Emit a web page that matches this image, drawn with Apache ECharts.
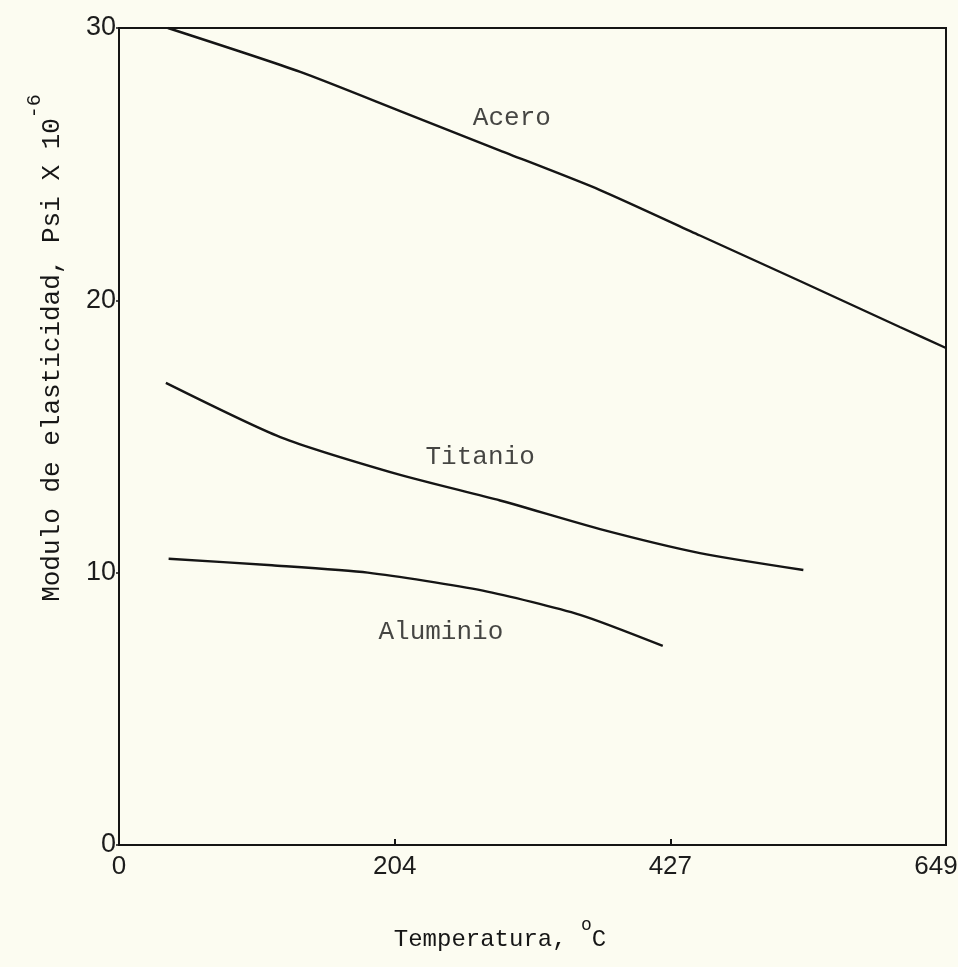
<!DOCTYPE html>
<html>
<head>
<meta charset="utf-8">
<script src="https://cdn.jsdelivr.net/npm/echarts@6/dist/echarts.min.js"></script>
<style>
  html, body { margin: 0; padding: 0; background: #fcfcf1; }
  #chart { width: 958px; height: 967px; }
</style>
</head>
<body>
<div id="chart"></div>
<script>
// x is plotted on the original evenly spaced scale (0..1200), tick labels show °C
const tempTicks = [0, 400, 800, 1200];
const tempTickLabels = ['0', '204', '427', '649'];
const modTicks = [0, 10, 20, 30];

const aceroTemp = [71, 263, 408, 553, 698, 843, 988, 1133, 1200];
const aceroMod = [30.0, 28.39, 26.95, 25.5, 24.05, 22.38, 20.71, 19.02, 18.25];

const titanioTemp = [68, 234, 408, 553, 698, 843, 993];
const titanioMod = [16.97, 14.98, 13.59, 12.65, 11.6, 10.72, 10.1];

const aluminioTemp = [72, 222, 361, 528, 669, 789];
const aluminioMod = [10.51, 10.27, 10.0, 9.34, 8.45, 7.31];

const curveNames = ['Acero', 'Titanio', 'Aluminio'];
const curveLabelTemp = [570, 524, 467];
const curveLabelMod = [26.7, 14.25, 7.82];

const INK = '#151515';
const TYPE = '"Liberation Mono", "DejaVu Sans Mono", monospace';
const LETTER = '"Liberation Sans", "DejaVu Sans", sans-serif';

const zip = (xs, ys) => xs.map((x, i) => [x, ys[i]]);

const curve = (name, xs, ys) => ({
  name,
  type: 'line',
  smooth: 0.22,
  showSymbol: false,
  silent: true,
  lineStyle: { color: INK, width: 2.4 },
  data: zip(xs, ys),
});

const chart = echarts.init(document.getElementById('chart'));

chart.setOption({
  backgroundColor: '#fcfcf1',
  animation: false,
  grid: {
    left: 119,
    right: 12,
    top: 28,
    bottom: 122,
    containLabel: false,
    outerBoundsMode: 'none',
    show: true,
    borderColor: INK,
    borderWidth: 2,
  },
  xAxis: {
    type: 'value',
    min: tempTicks[0],
    max: tempTicks[tempTicks.length - 1],
    interval: tempTicks[1] - tempTicks[0],
    axisLine: { show: false },
    splitLine: { show: false },
    axisTick: { show: true, inside: true, length: 6, lineStyle: { color: INK, width: 2 } },
    axisLabel: {
      margin: 9,
      fontFamily: LETTER,
      fontSize: 26,
      color: '#1c1c1c',
      formatter: v => {
        const i = tempTicks.indexOf(v);
        if (i < 0) return '';
        return i === tempTicks.length - 1 ? `{last|${tempTickLabels[i]}}` : tempTickLabels[i];
      },
      rich: {
        last: { fontFamily: LETTER, fontSize: 26, color: '#1c1c1c', padding: [0, 20, 0, 0] },
      },
    },
  },
  yAxis: {
    type: 'value',
    min: modTicks[0],
    max: modTicks[modTicks.length - 1],
    interval: modTicks[1] - modTicks[0],
    axisLine: { show: false },
    splitLine: { show: false },
    axisTick: { show: true, length: 3, lineStyle: { color: INK, width: 1.5 } },
    axisLabel: {
      margin: 3,
      fontFamily: LETTER,
      fontSize: 27,
      color: '#1c1c1c',
    },
  },
  series: [
    curve('Acero', aceroTemp, aceroMod),
    curve('Titanio', titanioTemp, titanioMod),
    curve('Aluminio', aluminioTemp, aluminioMod),
    {
      type: 'scatter',
      symbolSize: 0,
      silent: true,
      data: curveNames.map((n, i) => ({ name: n, value: [curveLabelTemp[i], curveLabelMod[i]] })),
      label: {
        show: true,
        position: 'inside',
        formatter: '{b}',
        fontFamily: TYPE,
        fontSize: 26,
        color: '#161616',
      },
    },
  ],
  graphic: [
    {
      type: 'text',
      x: 45,
      y: 348,
      rotation: Math.PI / 2,
      style: {
        text: '{t|Modulo de elasticidad, Psi X 10}{sup|-6}',
        align: 'center',
        verticalAlign: 'middle',
        fill: '#161616',
        rich: {
          t: { fontFamily: TYPE, fontSize: 26, lineHeight: 40, verticalAlign: 'bottom', fill: '#161616' },
          sup: { fontFamily: TYPE, fontSize: 20, lineHeight: 20, verticalAlign: 'top', fill: '#161616' },
        },
      },
    },
    {
      type: 'text',
      x: 500,
      y: 934,
      style: {
        text: '{t|Temperatura, }{sup|o}{t|C}',
        align: 'center',
        verticalAlign: 'middle',
        fill: '#161616',
        rich: {
          t: { fontFamily: TYPE, fontSize: 24, lineHeight: 36, verticalAlign: 'bottom', fill: '#161616' },
          sup: { fontFamily: TYPE, fontSize: 18, lineHeight: 18, verticalAlign: 'top', fill: '#161616' },
        },
      },
    },
  ],
});
</script>
</body>
</html>
